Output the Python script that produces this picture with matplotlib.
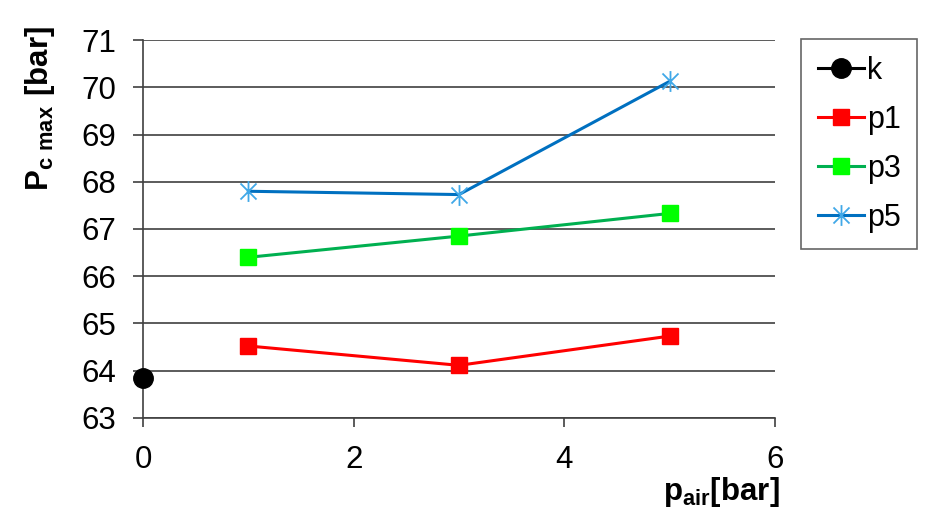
import numpy as np
import matplotlib
matplotlib.use("Agg")
import matplotlib.pyplot as plt
from matplotlib.path import Path

plt.rcParams['font.family'] = ['Liberation Sans', 'DejaVu Sans']
plt.rcParams['mathtext.fontset'] = 'custom'
plt.rcParams['mathtext.rm'] = 'Liberation Sans'
plt.rcParams['mathtext.bf'] = 'Liberation Sans:bold'

# data
x_k = [0]
k = [63.85]
x_p = [1, 3, 5]
p1 = [64.52, 64.11, 64.73]
p3 = [66.40, 66.85, 67.33]
p5 = [67.80, 67.73, 70.13]

# excel-style asterisk: an X plus a vertical bar
star = Path([(-1, -1), (1, 1), (-1, 1), (1, -1), (0, -1.3), (0, 1.3)],
            [Path.MOVETO, Path.LINETO, Path.MOVETO, Path.LINETO, Path.MOVETO, Path.LINETO])

fig = plt.figure(figsize=(9.36, 5.26), dpi=100)
ax = fig.add_axes([143/936, 1-417.7/526, (775-143)/936, (417.7-40.3)/526])

ax.plot(x_k, k, color='black', marker='o', markersize=14, lw=2.2, label='k', clip_on=False, zorder=5)
ax.plot(x_p, p1, color='#ff0000', marker='s', markersize=12, lw=2.2, label='p1')
ax.plot(x_p, p3, color='#00b050', marker='s', markersize=12, lw=2.2,
        markerfacecolor='#00ff00', markeredgecolor='#00ff00', label='p3')
ax.plot(x_p, p5, color='#0070c0', marker=star, markersize=15, lw=2.2,
        markeredgecolor='#40a8e8', markeredgewidth=1.3, label='p5')

ax.set_xlim(0, 6)
ax.set_ylim(63, 71)
ax.set_xticks([0, 2, 4, 6])
ax.set_yticks(np.arange(63, 72, 1))
ax.tick_params(axis='both', labelsize=22.5, color='#404040', width=1.2)
ax.tick_params(axis='x', length=6.5, direction='out', pad=13)
ax.tick_params(axis='y', length=7.2, direction='out', pad=12)
ax.grid(axis='y', color='#404040', lw=1.2)
ax.set_axisbelow(True)
for s in ['top', 'right']:
    ax.spines[s].set_visible(False)
ax.spines['left'].set_color('#404040')
ax.spines['bottom'].set_color('#404040')
ax.spines['left'].set_linewidth(1.2)
ax.spines['bottom'].set_linewidth(1.2)

fig.text(780/936, 1-492/526, r'$\mathbf{p_{air}[bar]}$', fontsize=22.5, ha='right', va='center')
fig.text(40/936, 1-26/526, r'$\mathbf{P_{c\ max}\ [bar]}$', fontsize=22.5, rotation=90,
         ha='center', va='top')

leg = fig.legend(loc='upper left', bbox_to_anchor=(801/936, 1-39/526), fontsize=22,
                 frameon=True, fancybox=False, edgecolor='#404040', handlelength=1.5,
                 handletextpad=0.1, labelspacing=0.62, borderpad=0.55, borderaxespad=0)
leg.get_frame().set_linewidth(1.2)

fig.savefig('out.png', dpi=100)
